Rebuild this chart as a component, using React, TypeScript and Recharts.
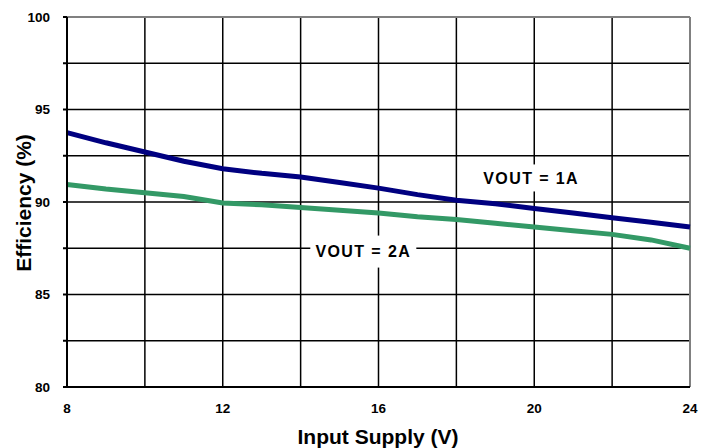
import { LineChart, Line, XAxis, YAxis, CartesianGrid, ReferenceLine, ReferenceDot, Label } from "recharts";

// input supply (V) and measured efficiency (%)
const supplyVolts = [8, 9, 10, 11, 12, 13, 14, 15, 16, 17, 18, 19, 20, 21, 22, 23, 24];
const effOut1A = [93.75, 93.2, 92.7, 92.2, 91.8, 91.55, 91.35, 91.05, 90.75, 90.4, 90.1, 89.9, 89.65, 89.4, 89.15, 88.9, 88.65];
const effOut2A = [90.95, 90.7, 90.5, 90.3, 89.95, 89.85, 89.7, 89.55, 89.4, 89.2, 89.05, 88.85, 88.65, 88.45, 88.25, 87.95, 87.5];

const xGridTicks = [8, 10, 12, 14, 16, 18, 20, 22, 24];
const yGridTicks = [80, 82.5, 85, 87.5, 90, 92.5, 95, 97.5, 100];
const xLabelTicks = [8, 12, 16, 20, 24];
const yLabelTicks = [80, 85, 90, 95, 100];

const noteLabels = ["VOUT = 1A", "VOUT = 2A"];
const noteVolts = [19.92, 15.61];
const noteEff = [91.3, 87.32];

const FONT = "Liberation Sans";
const BLUE = "#000080";
const GREEN = "#339966";

const rows = supplyVolts.map((v, i) => ({ v, a1: effOut1A[i], a2: effOut2A[i] }));

const tickFont = { fill: "#000", fontSize: 13.5, fontWeight: "bold", fontFamily: FONT };

function NoteBox({ cx, cy, text, w, h }: any) {
  return (
    <g>
      <rect x={cx - w / 2} y={cy - h / 2} width={w} height={h} fill="#fff" />
      <text x={cx} y={cy + 5.8} textAnchor="middle" fontFamily={FONT} fontWeight="bold" fontSize={16} letterSpacing={1.4} fill="#000">
        {text}
      </text>
    </g>
  );
}

export default function App() {
  return (
    <div style={{ position: "absolute", left: 0, top: 0, background: "#fff" }}>
      <LineChart width={711} height={448} data={rows} margin={{ top: 17, right: 21, bottom: 0, left: 0 }}>
        <CartesianGrid stroke="#000" strokeWidth={1.5} />
        <XAxis
          type="number"
          dataKey="v"
          domain={[8, 24]}
          ticks={xGridTicks}
          interval={0}
          height={61}
          tickSize={0}
          tickMargin={16}
          tickLine={false}
          tick={tickFont}
          tickFormatter={(v: number) => (xLabelTicks.includes(v) ? String(v) : "")}
          axisLine={{ stroke: "#000", strokeWidth: 2 }}
        >
          <Label
            content={() => (
              <text x={378} y={444} textAnchor="middle" fontFamily={FONT} fontWeight="bold" fontSize={21} fill="#000">
                Input Supply (V)
              </text>
            )}
          />
        </XAxis>
        <YAxis
          type="number"
          domain={[80, 100]}
          ticks={yGridTicks}
          interval={0}
          width={67}
          tickSize={4}
          tickMargin={13}
          tickLine={{ stroke: "#000", strokeWidth: 2 }}
          tick={tickFont}
          tickFormatter={(v: number) => (yLabelTicks.includes(v) ? String(v) : "")}
          axisLine={{ stroke: "#000", strokeWidth: 2 }}
        >
          <Label
            content={() => (
              <text x={31} y={203} transform="rotate(-90 31 203)" textAnchor="middle" fontFamily={FONT} fontWeight="bold" fontSize={21} fill="#000">
                Efficiency (%)
              </text>
            )}
          />
        </YAxis>
        <ReferenceLine y={100} stroke="#808080" strokeWidth={2} />
        <ReferenceLine x={24} stroke="#808080" strokeWidth={2} />
        <Line type="linear" dataKey="a1" stroke={BLUE} strokeWidth={5} dot={false} isAnimationActive={false} />
        <Line type="linear" dataKey="a2" stroke={GREEN} strokeWidth={5} dot={false} isAnimationActive={false} />
        <ReferenceDot
          x={noteVolts[0]}
          y={noteEff[0]}
          r={0}
          shape={(p: any) => <NoteBox {...p} text={noteLabels[0]} w={110} h={27} />}
        />
        <ReferenceDot
          x={noteVolts[1]}
          y={noteEff[1]}
          r={0}
          shape={(p: any) => <NoteBox {...p} text={noteLabels[1]} w={106} h={32} />}
        />
      </LineChart>
    </div>
  );
}
